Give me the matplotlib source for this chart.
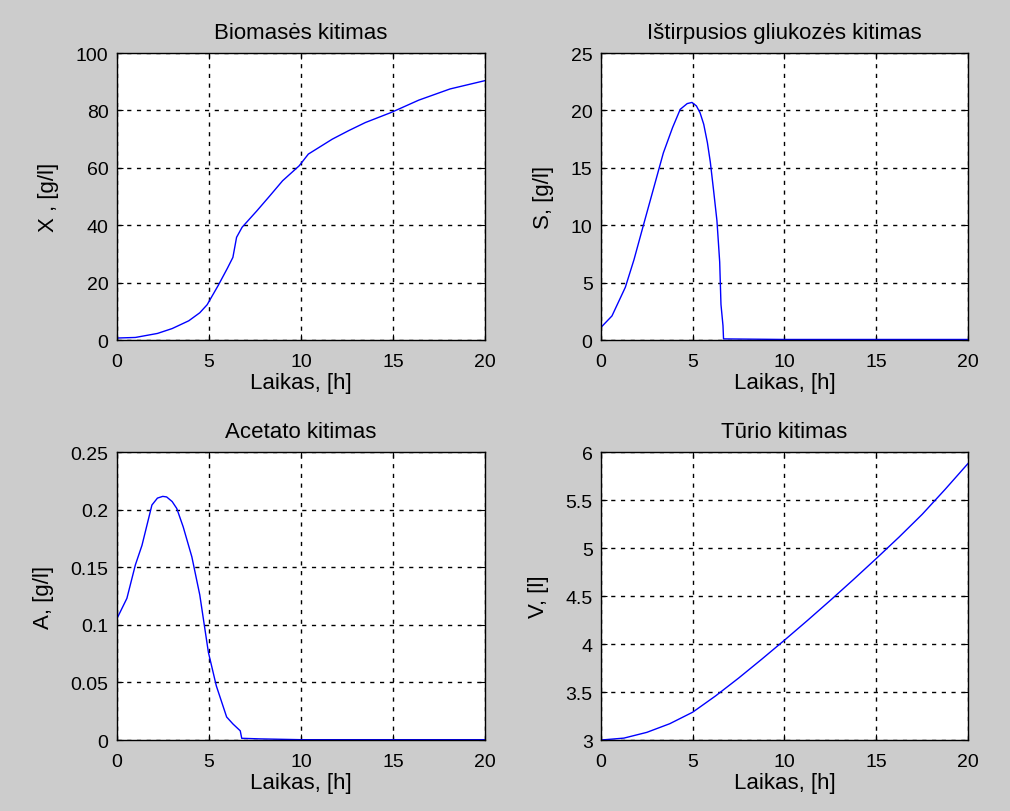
import matplotlib
matplotlib.use('Agg')
import matplotlib.pyplot as plt

plt.rcParams['font.family'] = ['Liberation Sans', 'DejaVu Sans']

# Biomase X
tx = [0, 1.0, 2.2, 3.0, 3.9, 4.5, 4.9, 5.5, 6.0, 6.3, 6.5, 6.8, 7.6, 8.3, 9.0, 9.9, 10.4, 11.7, 12.6, 13.5, 14.9, 16.4, 18.1, 20]
x = [0.7, 0.9, 2.3, 4.0, 6.7, 9.5, 12.3, 19.0, 25.0, 28.8, 35.8, 39.3, 45.0, 50.2, 55.5, 60.7, 64.8, 70.0, 73.0, 75.8, 79.3, 83.6, 87.5, 90.4]

# Gliukoze S
ts = [0, 0.6, 1.33, 1.8, 2.33, 2.9, 3.4, 3.9, 4.32, 4.7, 4.96, 5.2, 5.4, 5.6, 5.8, 5.96, 6.14, 6.32, 6.4,
      6.47, 6.54, 6.65, 6.68, 10, 15, 20]
s = [1.1, 2.1, 4.6, 7.0, 10.1, 13.4, 16.3, 18.5, 20.1, 20.6, 20.7, 20.4, 19.8, 18.8, 17.2, 15.5, 13.0, 10.4, 8.5,
     6.8, 3.1, 1.25, 0.1, 0.05, 0.05, 0.05]

# Acetatas A
ta = [0, 0.54, 1.0, 1.36, 1.9, 2.2, 2.49, 2.7, 3.0, 3.25, 3.6, 4.07, 4.5, 4.97, 5.4, 5.96, 6.3, 6.7, 6.78, 7.77, 10, 20]
a = [0.1054, 0.123, 0.152, 0.169, 0.204, 0.210, 0.2115, 0.211, 0.207, 0.201, 0.185, 0.159, 0.126, 0.076, 0.047, 0.020,
     0.014, 0.008, 0.0015, 0.001, 0.0003, 0.0003]

# Turis V
tv = [0, 1.25, 2.5, 3.75, 5.0, 6.25, 7.5, 8.75, 10.0, 11.25, 12.5, 13.75, 15.0, 16.25, 17.5, 18.75, 20]
v = [3.0, 3.02, 3.08, 3.17, 3.29, 3.46, 3.645, 3.84, 4.04, 4.245, 4.455, 4.67, 4.89, 5.115, 5.35, 5.61, 5.88]

panels = [
    (tx, x, 'Biomasės kitimas', 'X , [g/l]', (0, 100), [0, 20, 40, 60, 80, 100], ['0', '20', '40', '60', '80', '100']),
    (ts, s, 'Ištirpusios gliukozės kitimas', 'S, [g/l]', (0, 25), [0, 5, 10, 15, 20, 25], ['0', '5', '10', '15', '20', '25']),
    (ta, a, 'Acetato kitimas', 'A, [g/l]', (0, 0.25), [0, 0.05, 0.1, 0.15, 0.2, 0.25], ['0', '0.05', '0.1', '0.15', '0.2', '0.25']),
    (tv, v, 'Tūrio kitimas', 'V, [l]', (3, 6), [3, 3.5, 4, 4.5, 5, 5.5, 6], ['3', '3.5', '4', '4.5', '5', '5.5', '6']),
]

positions = [
    [0.1158, 0.580, 0.3644, 0.3534],
    [0.5950, 0.580, 0.3634, 0.3534],
    [0.1158, 0.0874, 0.3644, 0.3547],
    [0.5950, 0.0874, 0.3634, 0.3547],
]

fig = plt.figure(figsize=(10.1, 8.12), dpi=100, facecolor='#cccccc')

fs_tick = 14
fs_lab = 16
for (t, y, title, ylab, ylim, yt, ytl), pos in zip(panels, positions):
    ax = fig.add_axes(pos)
    ax.plot(t, y, color='#0000ff', linewidth=1.0)
    ax.set_xlim(0, 20)
    ax.set_ylim(*ylim)
    ax.set_xticks([0, 5, 10, 15, 20])
    ax.set_xticklabels(['0', '5', '10', '15', '20'])
    ax.set_yticks(yt)
    ax.set_yticklabels(ytl)
    ax.grid(True, color='black', linestyle=(0, (3, 4)), linewidth=1.0)
    ax.tick_params(direction='in', top=True, right=True, labelsize=fs_tick, length=4)
    ax.tick_params(axis='x', pad=9)
    ax.tick_params(axis='y', pad=6)
    for sp in ax.spines.values():
        sp.set_linewidth(1.0)
    ax.set_title(title, fontsize=fs_lab, pad=11)
    ax.set_xlabel('Laikas, [h]', fontsize=fs_lab, labelpad=2)
    ax.set_ylabel(ylab, fontsize=fs_lab, labelpad=12)

plt.savefig('out.png', dpi=100, facecolor=fig.get_facecolor())
